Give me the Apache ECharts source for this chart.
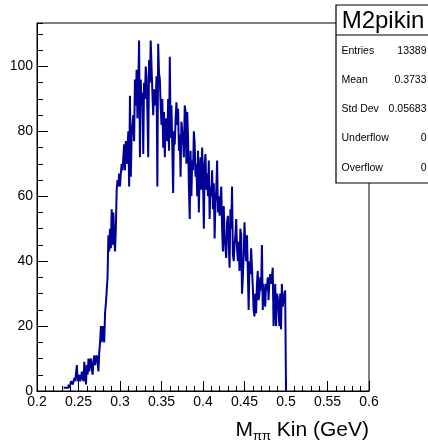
<!DOCTYPE html>
<html><head><meta charset="utf-8">
<script src="https://cdn.jsdelivr.net/npm/echarts@6/dist/echarts.min.js"></script>
<style>html,body{margin:0;padding:0;background:#fff}#c{width:428px;height:442px}</style>
</head><body><div id="c"></div>
<script>
// Histogram range and binning
const histMin = 0.2;
const histMax = 0.6;
const binWidth = 0.001;
const dataStart = 0.232; // lower edge of first filled bin

// bin contents from 0.232 to 0.500 (one value per 0.001 bin)
const counts = [
  1,1,1,1,1,1,2,1,
  2,3,3,2,3,4,3,3,8,3,
  4,5,3,4,6,4,3,9,5,2,
  8,5,10,6,9,10,7,5,9,11,
  8,10,11,9,6,12,15,20,15,20,
  20,15,24,27,31,35,48,43,50,44,
  56,45,55,48,43,50,62,65,63,67,
  63,67,70,68,72,76,68,77,70,74,
  80,63,91,66,78,82,85,77,96,88,
  99,84,94,108,72,96,88,92,73,95,
  90,100,97,86,72,102,95,108,100,92,
  85,93,88,90,97,63,107,98,96,88,
  82,90,75,86,72,84,80,77,90,74,
  103,78,88,75,61,80,76,84,89,82,
  87,74,79,66,83,80,77,72,88,86,
  70,86,78,63,53,74,60,71,68,80,
  76,66,70,60,74,55,68,72,62,75,
  66,50,70,73,62,67,60,71,53,63,
  60,68,56,64,47,58,62,71,55,60,
  54,58,63,50,43,57,48,44,41,52,
  54,46,38,56,50,63,42,40,45,48,
  53,44,40,46,37,50,48,30,35,42,
  52,44,40,48,37,25,40,36,44,38,
  32,25,23,30,24,33,37,28,30,35,
  31,45,25,33,29,26,33,31,35,28,
  34,36,33,35,38,20,26,33,20,30,
  29,25,20,30,19,33,26,28,30,31
];

const xTickLabels = ['0.2','0.25','0.3','0.35','0.4','0.45','0.5','0.55','0.6'];
const yTickLabels = ['0','20','40','60','80','100'];
const yMax = 113.4;

const histTitle = 'M2pikin';
const statNames = ['Entries','Mean','Std Dev','Underflow','Overflow'];
const statValues = ['13389','0.3733','0.05683','0','0'];

// Build step path points (lower edge, content) for the library
const pts = [];
for (let i = 0; i < counts.length; i++) {
  pts.push([+(dataStart + i * binWidth).toFixed(4), counts[i]]);
}
pts.push([+(dataStart + counts.length * binWidth).toFixed(4), 0]);

const FONT = 'Liberation Sans, Arial, Helvetica, sans-serif';
const chart = echarts.init(document.getElementById('c'), null, {renderer: 'canvas'});

const statGraphics = [];
statGraphics.push({type:'rect', z:100, shape:{x:336, y:5, width:100, height:178},
  style:{fill:'#fff', stroke:'#000', lineWidth:1.2}});
statGraphics.push({type:'line', z:101, shape:{x1:336, y1:35, x2:430, y2:35},
  style:{stroke:'#000', lineWidth:1.2}});
statGraphics.push({type:'text', z:101, x:383, y:21,
  style:{text:histTitle, font:'24px ' + FONT, fill:'#000', align:'center', verticalAlign:'middle'}});
statNames.forEach((n, k) => {
  const y = 50.7 + k * 29.25;
  statGraphics.push({type:'text', z:101, x:341.5, y:y,
    style:{text:n, font:'10.5px ' + FONT, fill:'#000', align:'left', verticalAlign:'middle'}});
  statGraphics.push({type:'text', z:101, x:426.5, y:y,
    style:{text:statValues[k], font:'10.5px ' + FONT, fill:'#000', align:'right', verticalAlign:'middle'}});
});
statGraphics.push({type:'text', z:101, x:369, y:430,
  style:{text:'{a|M}{b|ππ}{a| Kin (GeV)}', align:'right', verticalAlign:'middle',
    rich:{
      a:{fontSize:21, fontFamily:FONT, fill:'#000', color:'#000', lineHeight:26, verticalAlign:'middle'},
      b:{fontSize:13, fontFamily:FONT, fill:'#000', color:'#000', lineHeight:26, verticalAlign:'bottom', padding:[0,0,0,0]}
    }}});

chart.setOption({
  animation: false,
  backgroundColor: '#fff',
  grid: {left: 37, top: 23, right: 59, bottom: 51, show: true, borderColor: '#000', borderWidth: 1, backgroundColor: 'transparent'},
  xAxis: {
    type: 'value', min: histMin, max: histMax, interval: 0.05,
    axisLine: {show: true, onZero: false, lineStyle: {color: '#000', width: 1}},
    axisTick: {show: true, inside: true, length: 10, lineStyle: {color: '#000', width: 1}},
    minorTick: {show: true, splitNumber: 5, length: 5, lineStyle: {color: '#000', width: 1}},
    splitLine: {show: false}, minorSplitLine: {show: false},
    axisLabel: {color: '#000', fontSize: 14, fontFamily: FONT, margin: 4,
      formatter: v => { const s = String(+v.toFixed(2)); return xTickLabels.indexOf(s) >= 0 ? s : ''; }}
  },
  yAxis: [{
    type: 'value', min: 0, max: yMax, interval: 20, position: 'left',
    axisLine: {show: true, onZero: false, lineStyle: {color: '#000', width: 1}},
    axisTick: {show: true, inside: true, length: 11, lineStyle: {color: '#000', width: 1}},
    splitLine: {show: false},
    axisLabel: {color: '#000', fontSize: 14, fontFamily: FONT, margin: 4, showMaxLabel: false,
      formatter: v => { const s = String(Math.round(v)); return (Math.abs(v - Math.round(v)) < 1e-6 && yTickLabels.indexOf(s) >= 0) ? s : ''; }}
  }, {
    type: 'value', min: 0, max: yMax, interval: 5, position: 'left',
    axisLine: {show: false},
    axisTick: {show: true, inside: true, length: 6, lineStyle: {color: '#000', width: 1}},
    splitLine: {show: false},
    axisLabel: {show: false}
  }],
  series: [{
    type: 'line', step: 'end', data: pts, symbol: 'none', xAxisIndex: 0, yAxisIndex: 0,
    lineStyle: {color: '#000099', width: 2}, z: 3
  }],
  graphic: statGraphics
});
</script>
</body></html>
